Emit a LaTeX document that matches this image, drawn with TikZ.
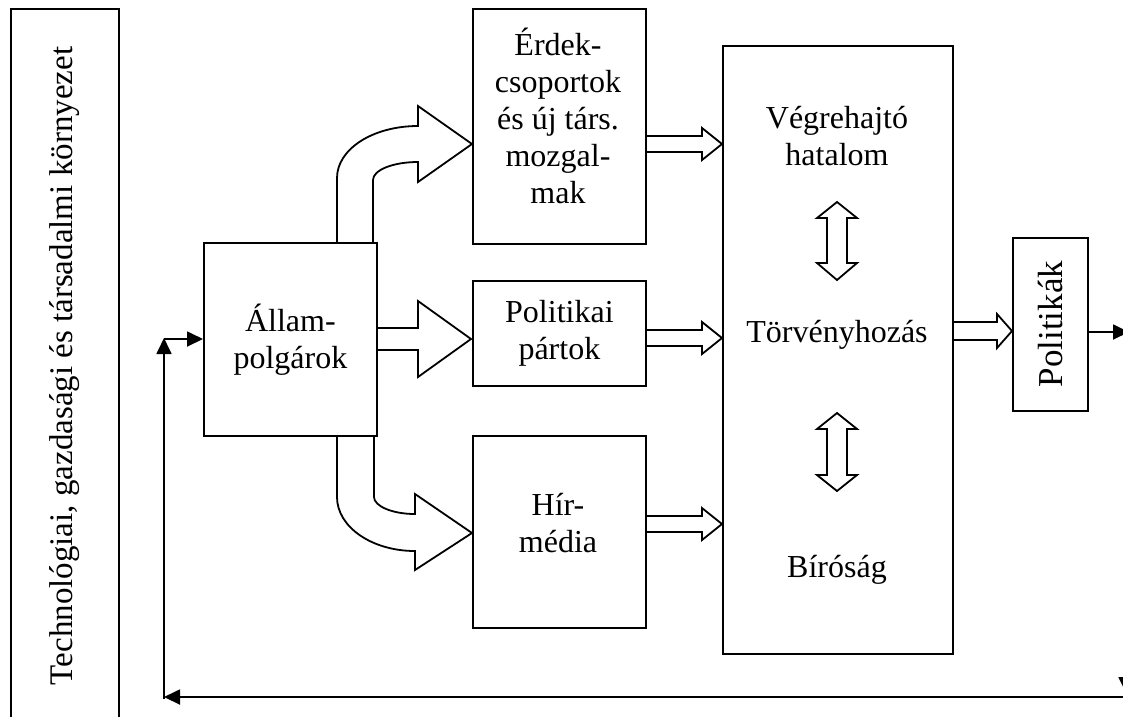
\documentclass[tikz,border=0pt]{standalone}
\usepackage{fontspec}
\setmainfont{Liberation Serif}
\usetikzlibrary{arrows.meta,calc}
\tikzset{
 box/.style={draw, line width=1.8pt, inner sep=0pt, align=center, font=\fontsize{32}{37}\selectfont},
 txt/.style={align=center, inner sep=0pt, font=\fontsize{32}{37}\selectfont},
 blk/.style={draw, line width=1.8pt, line join=miter},
 thinarrow/.style={line width=1.8pt, -{Triangle[length=16pt,width=15pt]}},
}
\begin{document}
\begin{tikzpicture}[x=1pt,y=-1pt]
\useasboundingbox (0,0) rectangle (1123,716);
\clip (0,0) rectangle (1123,716);

% boxes
\node[box, anchor=north west, minimum width=108pt, minimum height=740pt] (env) at (10,8) {};
\node[box, anchor=north west, minimum width=173pt, minimum height=193pt] (allam) at (203,242) {Állam-\\polgárok};
\node[box, anchor=north west, minimum width=173pt, minimum height=235pt] (erdek) at (472,8) {};
\node[box, anchor=north west, minimum width=173pt, minimum height=105pt] (part) at (472,280) {Politikai\\pártok};
\node[box, anchor=north west, minimum width=173pt, minimum height=192pt] (media) at (472,435) {};
\node[box, anchor=north west, minimum width=230pt, minimum height=608pt] (gov) at (722,45) {};
\node[box, anchor=north west, minimum width=75pt, minimum height=173pt] (pol) at (1012,237) {};

% texts
\node[txt, rotate=90, font=\fontsize{33}{37}\selectfont] (envt) at (65,366) {Technológiai, gazdasági és társadalmi környezet};
\node[txt] (erdekt) at (558,116) {Érdek-\\csoportok\\és új társ.\\mozgal-\\mak};
\node[txt] (mediat) at (558,523) {Hír-\\média};
\node[txt] (vegr) at (837,136) {Végrehajtó\\hatalom};
\node[txt] (torv) at (837,335) {Törvényhozás};
\node[txt] (biro) at (837,570) {Bíróság};
\node[txt, rotate=90, font=\fontsize{35}{40}\selectfont] (polt) at (1050,324) {Politikák};

% curved block arrows
\draw[blk] (337,242) -- (337,178) .. controls (337,149) and (373,126) .. (418,126) -- (418,106) -- (472,144) -- (418,182) -- (418,162) .. controls (393,162) and (373,170) .. (373,180) -- (373,242);
\draw[blk] (337,435) -- (337,497) .. controls (337,527) and (372,551) .. (415,551) -- (415,570) -- (472,533) -- (415,494) -- (415,514) .. controls (392,514) and (374,506) .. (374,497) -- (374,435);
\draw[blk] (376,328) -- (418,328) -- (418,301) -- (471,339) -- (418,377) -- (418,350) -- (376,350);

% small block arrows
\draw[blk] (645,136) -- (702,136) -- (702,128) -- (722,144) -- (702,160) -- (702,152) -- (645,152);
\draw[blk] (645,330) -- (702,330) -- (702,322) -- (722,338) -- (702,354) -- (702,346) -- (645,346);
\draw[blk] (645,516) -- (702,516) -- (702,508) -- (722,524) -- (702,540) -- (702,532) -- (645,532);
\draw[blk] (952,322) -- (997,322) -- (997,314) -- (1012,331) -- (997,348) -- (997,340) -- (952,340);

% double arrows
\draw[blk] (837,202) -- (857,218) -- (847,218) -- (847,263) -- (857,263) -- (837,280) -- (817,263) -- (827,263) -- (827,218) -- (817,218) -- cycle;
\draw[blk] (837,413) -- (857,429) -- (847,429) -- (847,475) -- (857,475) -- (837,491) -- (817,475) -- (827,475) -- (827,429) -- (817,429) -- cycle;

% feedback loop
\coordinate (pr) at (1087,332);
\coordinate (pe) at (1129,332);
\coordinate (rd0) at (1126,400);
\coordinate (rd1) at (1126,693);
\coordinate (br) at (1126,697);
\coordinate (bl) at (164,697);
\coordinate (vb) at (164,699);
\coordinate (vt) at (164,338);
\coordinate (fb) at (164,339);
\draw[thinarrow] (pr) -- (pe);
\draw[thinarrow] (rd0) -- (rd1);
\draw[thinarrow] (br) -- (bl);
\draw[thinarrow] (vb) -- (vt);
\draw[thinarrow] (fb) -- (fb -| allam.west);
\end{tikzpicture}
\end{document}
